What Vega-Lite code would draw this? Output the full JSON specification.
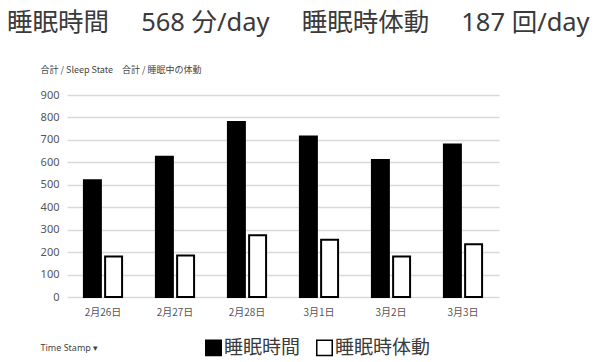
{
  "$schema": "https://vega.github.io/schema/vega-lite/v6.json",
  "width": 432,
  "height": 202,
  "autosize": {"type": "none"},
  "padding": {"left": 67, "top": 95, "right": 103, "bottom": 65},
  "background": "white",
  "title": {
    "text": "睡眠時間　  568 分/day　 睡眠時体動　 187 回/day",
    "anchor": "start",
    "frame": "group",
    "dx": -60,
    "offset": 29,
    "fontSize": 25.5,
    "font": "Noto Sans, Noto Sans CJK JP",
    "fontWeight": "normal",
    "color": "#3a3a3a"
  },
  "data": {
    "values": [
      {"date": "2月26日", "series": "睡眠時間", "value": 520},
      {"date": "2月26日", "series": "睡眠時体動", "value": 180},
      {"date": "2月27日", "series": "睡眠時間", "value": 625},
      {"date": "2月27日", "series": "睡眠時体動", "value": 185},
      {"date": "2月28日", "series": "睡眠時間", "value": 780},
      {"date": "2月28日", "series": "睡眠時体動", "value": 275},
      {"date": "3月1日", "series": "睡眠時間", "value": 715},
      {"date": "3月1日", "series": "睡眠時体動", "value": 255},
      {"date": "3月2日", "series": "睡眠時間", "value": 610},
      {"date": "3月2日", "series": "睡眠時体動", "value": 180},
      {"date": "3月3日", "series": "睡眠時間", "value": 680},
      {"date": "3月3日", "series": "睡眠時体動", "value": 235}
    ]
  },
  "mark": {"type": "bar", "stroke": "black", "strokeWidth": 2},
  "encoding": {
    "x": {
      "field": "date",
      "type": "nominal",
      "sort": null,
      "scale": {"paddingInner": 0.47, "paddingOuter": 0.235},
      "axis": {
        "labelAngle": 0,
        "domain": false,
        "ticks": false,
        "labelPadding": 10,
        "labelFontSize": 10,
        "labelFont": "Noto Sans CJK JP",
        "labelColor": "#555555",
        "title": "Time Stamp ▾",
        "titleFont": "Noto Sans",
        "titleFontSize": 9,
        "titleFontWeight": "normal",
        "titleColor": "#444444",
        "titleAlign": "left",
        "titleAnchor": "start",
        "titleBaseline": "middle",
        "titleX": -27,
        "titleY": 50
      }
    },
    "xOffset": {
      "field": "series",
      "type": "nominal",
      "sort": ["睡眠時間", "睡眠時体動"],
      "scale": {"paddingInner": 0.2}
    },
    "y": {
      "field": "value",
      "type": "quantitative",
      "scale": {"domain": [0, 900]},
      "axis": {
        "values": [0, 100, 200, 300, 400, 500, 600, 700, 800, 900],
        "domain": false,
        "ticks": false,
        "labelPadding": 8,
        "labelFontSize": 11,
        "labelFont": "Noto Sans",
        "labelColor": "#555555",
        "gridColor": "#d9d9d9",
        "gridWidth": 1.5,
        "title": "合計 / Sleep State　合計 / 睡眠中の体動",
        "titleFont": "Noto Sans CJK JP",
        "titleFontSize": 9,
        "titleFontWeight": "normal",
        "titleColor": "#444444",
        "titleAngle": 0,
        "titleAlign": "left",
        "titleBaseline": "middle",
        "titleX": -27,
        "titleY": -26
      }
    },
    "color": {
      "field": "series",
      "type": "nominal",
      "scale": {"domain": ["睡眠時間", "睡眠時体動"], "range": ["black", "white"]},
      "legend": {
        "orient": "none",
        "legendX": 137,
        "legendY": 243,
        "direction": "horizontal",
        "title": null,
        "symbolType": "square",
        "symbolSize": 240,
        "symbolStrokeColor": "black",
        "symbolStrokeWidth": 1.5,
        "labelFontSize": 19,
        "labelFont": "Noto Sans CJK JP",
        "labelColor": "#3a3a3a",
        "labelOffset": 1,
        "columnPadding": 12
      }
    }
  },
  "config": {"view": {"stroke": null}}
}
